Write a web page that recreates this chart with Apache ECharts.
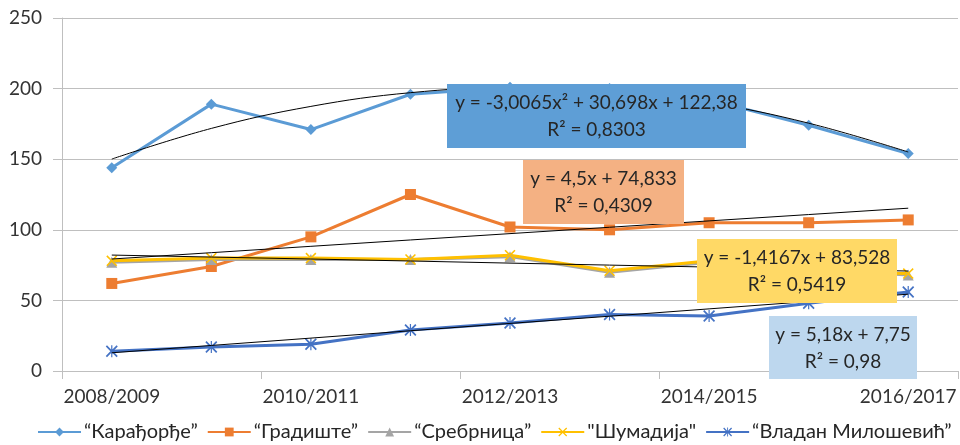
<!DOCTYPE html>
<html>
<head>
<meta charset="utf-8">
<script src="https://cdn.jsdelivr.net/npm/echarts@6/dist/echarts.min.js"></script>
<style>
    html,body{margin:0;padding:0;background:#fff;}
    #chart{width:960px;height:445px;}
</style>
</head>
<body>
<div id="chart"></div>
<script>
var categories = ['2008/2009', '2009/2010', '2010/2011', '2011/2012', '2012/2013', '2013/2014', '2014/2015', '2015/2016', '2016/2017'];
var seriesNames = ['“Карађорђе”', '“Градиште”', '“Сребрница”', '"Шумадија"', '“Владан Милошевић”'];

// values
var karadjordje = [144, 189, 171, 196, 201, 200, 192, 174, 154];
var gradiste = [62, 74, 95, 125, 102, 100, 105, 105, 107];
var srebrnica = [77, 79, 79, 79, 81, 70, 77, 72, 68];
var sumadija = [78, 80, 80, 79, 82, 71, 78, 70, 69];
var vladan = [14, 17, 19, 29, 34, 40, 39, 48, 56];

// trend lines as drawn in the picture
var trendKaradjordje = [150.1, 171.8, 187.4, 197.1, 200.7, 198.3, 190.0, 175.5, 155.1];
var trendGradiste = [79.3, 83.8, 88.3, 92.8, 97.3, 101.8, 106.3, 110.8, 115.3];
var trendSumadija = [82.1, 80.7, 79.3, 77.9, 76.4, 75.0, 73.6, 72.2, 70.8];
var trendVladan = [12.9, 18.1, 23.3, 28.5, 33.7, 38.8, 44.0, 49.2, 54.4];

var yTicks = [0, 50, 100, 150, 200, 250];

var colors = ['#5B9BD5', '#ED7D31', '#A5A5A5', '#FFC000', '#4472C4'];
var font = 'Lato, "Open Sans", sans-serif';

var xSymbol = 'path://M0,1L1,0L5,4L9,0L10,1L6,5L10,9L9,10L5,6L1,10L0,9L4,5Z';
var starSymbol = 'path://M0,1L1,0L4.5,3.5L4.5,0L5.5,0L5.5,3.5L9,0L10,1L6.2,5L10,9L9,10L5.5,6.5L5.5,10L4.5,10L4.5,6.5L1,10L0,9L3.8,5Z';

function dataLine(name, data, color, symbol, size) {
    return {
        name: name,
        type: 'line',
        data: data,
        symbol: symbol,
        symbolSize: size,
        showSymbol: true,
        lineStyle: {color: color, width: 3},
        itemStyle: {color: color},
        z: 2
    };
}
function trendLine(data, smooth) {
    return {
        type: 'line',
        data: data,
        symbol: 'none',
        smooth: smooth ? 0.4 : false,
        lineStyle: {color: '#000', width: 1},
        silent: true,
        z: 3
    };
}

// trend equation boxes
function eqBox(x, y, w, h, fill, line1, line2) {
    return {
        type: 'group',
        zlevel: 1,
        z: 100,
        children: [
            {type: 'rect', z: 100, zlevel: 1, shape: {x: x, y: y, width: w, height: h}, style: {fill: fill}},
            {type: 'text', z: 101, zlevel: 1, x: x + w / 2, y: y + h / 2 - 13, style: {text: line1, font: '19px ' + font, fill: '#262626', align: 'center', verticalAlign: 'middle'}},
            {type: 'text', z: 101, zlevel: 1, x: x + w / 2, y: y + h / 2 + 14, style: {text: line2, font: '19px ' + font, fill: '#262626', align: 'center', verticalAlign: 'middle'}}
        ]
    };
}

var myChart = echarts.init(document.getElementById('chart'));
var option = {
    animation: false,
    color: colors,
    textStyle: {fontFamily: font},
    grid: {left: 62, right: 2, top: 18, bottom: 74, containLabel: false},
    legend: {
        data: seriesNames,
        left: 37,
        bottom: 3,
        width: 923,
        padding: 0,
        itemWidth: 43,
        itemHeight: 11,
        itemGap: 9,
        textStyle: {fontSize: 20, color: '#262626', fontFamily: font, padding: [0, 0, 0, -2]}
    },
    xAxis: {
        type: 'category',
        data: categories,
        boundaryGap: true,
        axisLine: {lineStyle: {color: '#BFBFBF', width: 1}},
        axisTick: {show: true, interval: 1, length: 8, lineStyle: {color: '#BFBFBF'}},
        axisLabel: {interval: 1, fontSize: 19, color: '#333', margin: 16, fontFamily: font}
    },
    yAxis: {
        type: 'value',
        min: yTicks[0],
        max: yTicks[yTicks.length - 1],
        interval: 50,
        axisLine: {show: true, lineStyle: {color: '#BFBFBF', width: 1}},
        axisTick: {show: true, length: 9, lineStyle: {color: '#BFBFBF'}},
        splitLine: {lineStyle: {color: '#BFBFBF', width: 1}},
        axisLabel: {fontSize: 19, color: '#333', margin: 20, fontFamily: font}
    },
    series: [
        dataLine(seriesNames[0], karadjordje, colors[0], 'diamond', 11),
        dataLine(seriesNames[1], gradiste, colors[1], 'rect', 11),
        dataLine(seriesNames[2], srebrnica, colors[2], 'triangle', 11),
        dataLine(seriesNames[3], sumadija, colors[3], xSymbol, 11),
        dataLine(seriesNames[4], vladan, colors[4], starSymbol, 12),
        trendLine(trendKaradjordje, true),
        trendLine(trendGradiste),
        trendLine(trendSumadija),
        trendLine(trendVladan)
    ],
    graphic: [
        eqBox(447, 84, 299, 64, '#5E9ED6', 'y = -3,0065x² + 30,698x + 122,38', 'R² = 0,8303'),
        eqBox(523, 160, 161, 64, '#F4B183', 'y = 4,5x + 74,833', 'R² = 0,4309'),
        eqBox(697, 239, 200, 64, '#FFD966', 'y = -1,4167x + 83,528', 'R² = 0,5419'),
        eqBox(769, 316, 148, 63, '#BDD7EE', 'y = 5,18x + 7,75', 'R² = 0,98')
    ]
};
myChart.setOption(option);
</script>
</body>
</html>
